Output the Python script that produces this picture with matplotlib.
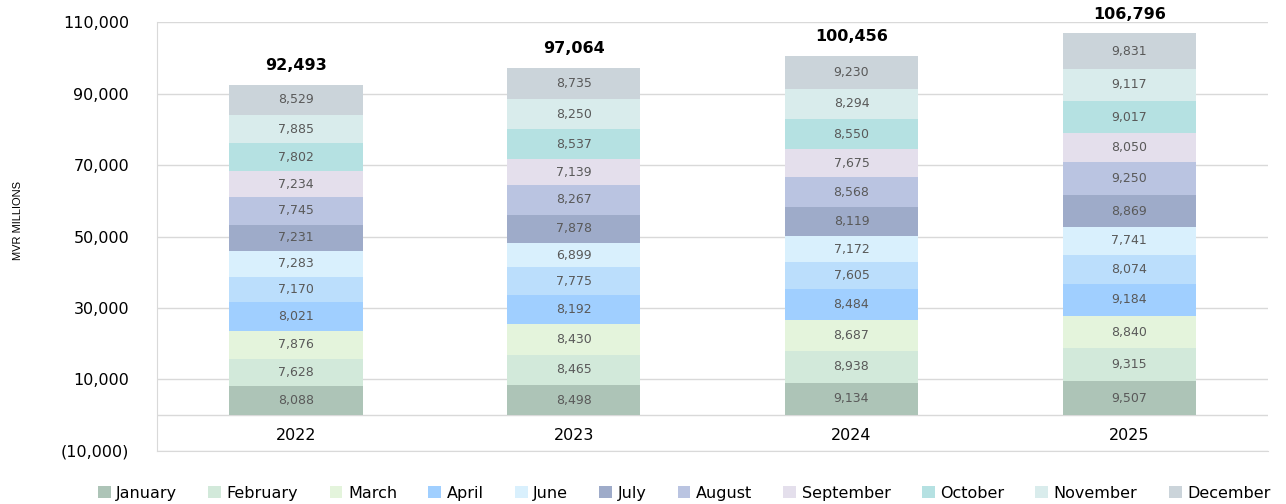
import numpy as np
import matplotlib.pyplot as plt
from matplotlib.ticker import FuncFormatter

plt.rcParams['font.family'] = ['DejaVu Sans']

# MVR millions per month, stacked by year
years = ['2022', '2023', '2024', '2025']
months = ['January', 'February', 'March', 'April', 'May', 'June', 'July',
          'August', 'September', 'October', 'November', 'December']

jan = [8088, 8498, 9134, 9507]
feb = [7628, 8465, 8938, 9315]
mar = [7876, 8430, 8687, 8840]
apr = [8021, 8192, 8484, 9184]
may = [7170, 7775, 7605, 8074]
jun = [7283, 6899, 7172, 7741]
jul = [7231, 7878, 8119, 8869]
aug = [7745, 8267, 8568, 9250]
sep = [7234, 7139, 7675, 8050]
oct_ = [7802, 8537, 8550, 9017]
nov = [7885, 8250, 8294, 9117]
dec = [8529, 8735, 9230, 9831]
totals = [92493, 97064, 100456, 106796]

series = [jan, feb, mar, apr, may, jun, jul, aug, sep, oct_, nov, dec]
colors = ['#adc4b7', '#d2e9da', '#e4f4dc', '#a0cfff', '#bbdefc', '#d9f0fd',
          '#9eabc9', '#bac4e1', '#e4dfec', '#b5e1e2', '#d9ecec', '#cbd4da']

fig = plt.figure(figsize=(12.86, 5.04), dpi=100)
ax = fig.add_axes([0.1221, 0.1052, 0.864, 0.8511])

x = np.arange(len(years))
bottom = np.zeros(len(years))
handles = []
for name, vals, col in zip(months, series, colors):
    bars = ax.bar(x, vals, width=0.48, bottom=bottom, color=col, label=name, zorder=3)
    for xi, b, v in zip(x, bottom, vals):
        ax.text(xi, b + v / 2, f'{v:,}', ha='center', va='center',
                fontsize=9, color='#595959', zorder=4)
    bottom = bottom + np.array(vals)
    if name != 'May':
        handles.append(bars)

for xi, top, t in zip(x, bottom, totals):
    ax.annotate(f'{t:,}', (xi, top), xytext=(0, 14), textcoords='offset points',
                ha='center', va='center', fontsize=11.5, fontweight='bold', color='black')

ax.set_xlim(-0.5, 3.5)
ax.set_ylim(-10000, 110000)
ax.set_yticks(np.arange(-10000, 110001, 20000))
ax.yaxis.set_major_formatter(FuncFormatter(
    lambda v, p: f'({abs(int(v)):,})' if v < 0 else f'{int(v):,}'))
ax.tick_params(axis='y', length=0, pad=20, labelsize=11.5, labelcolor='black')
ax.set_xticks([])
for xi, yr in zip(x, years):
    ax.text(xi, -5800, yr, ha='center', va='center', fontsize=11.5, color='black')

ax.grid(axis='y', color='#d9d9d9', linewidth=1, zorder=0)
ax.axhline(0, color='#d9d9d9', linewidth=1, zorder=2)
for s in ['top', 'right']:
    ax.spines[s].set_visible(False)
for s in ['left', 'bottom']:
    ax.spines[s].set_color('#d9d9d9')
ax.spines['bottom'].set_position(('data', -10000))

fig.text(0.014, 0.563, 'MVR MILLIONS', rotation=90, ha='center', va='center',
         fontsize=8, family=['Liberation Sans Narrow', 'Liberation Sans', 'DejaVu Sans'])

fig.legend(handles=handles, labels=[m for m in months if m != 'May'],
           loc='lower center', bbox_to_anchor=(0.532, -0.022), ncol=11,
           frameon=False, fontsize=11.5, handlelength=0.8, handleheight=0.8,
           handletextpad=0.35, columnspacing=1.95)

fig.savefig('out.png', dpi=100)
